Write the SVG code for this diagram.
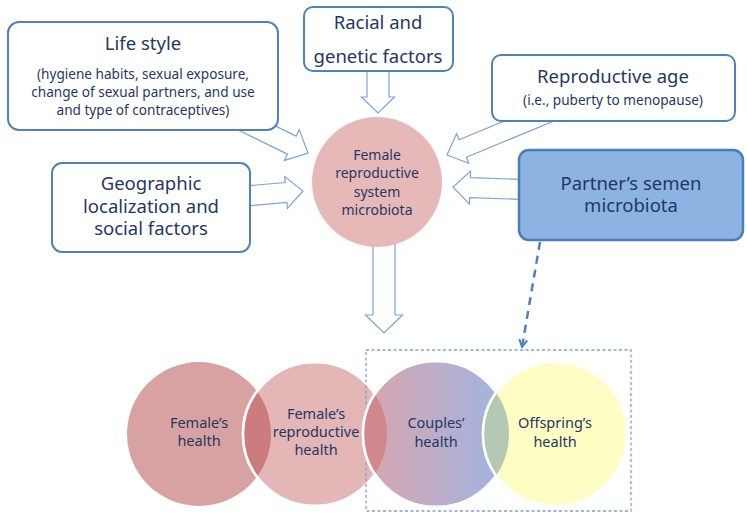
<svg xmlns="http://www.w3.org/2000/svg" width="747" height="519" viewBox="0 0 747 519">
<defs>
<style>
.box{fill:#ffffff;stroke:#4f81bd;stroke-width:2}
.arr{fill:#ffffff;stroke:#7ea3d6;stroke-width:1.2;stroke-linejoin:miter}
.ring{fill:none;stroke:#ffffff;stroke-width:2.5}
text{font-family:"Noto Sans","Liberation Sans",sans-serif;fill:#1f3864;text-anchor:middle}
.t{font-size:18.5px}
.s{font-size:13.6px}
.c{font-size:14px}
.b{font-size:14.5px}
</style>
<linearGradient id="gc" x1="0" x2="1" y1="0" y2="0">
<stop offset="0" stop-color="#d9a5ae"/>
<stop offset="1" stop-color="#9fb5e3"/>
</linearGradient>
<clipPath id="c2"><circle cx="315" cy="434" r="72"/></clipPath>
<clipPath id="c3"><circle cx="436" cy="434" r="73"/></clipPath>
<clipPath id="c4"><circle cx="555" cy="434" r="72"/></clipPath>
<marker id="ah" viewBox="0 0 10 10" refX="8.5" refY="5" markerWidth="4" markerHeight="4" orient="auto">
<path d="M1,1 L8.5,5 L1,9" fill="none" stroke="#4f81bd" stroke-width="2"/>
</marker>
</defs>

<g id="connectors">
<polygon class="arr" transform="translate(308,153) rotate(26)" points="-78,-10 -18,-10 -18,-17 0,0 -18,17 -18,10 -78,10"/>
<polygon class="arr" transform="translate(378,113) rotate(90)" points="-50,-11 -16,-11 -16,-16.5 0,0 -16,16.5 -16,11 -50,11"/>
<polygon class="arr" transform="translate(447,155) rotate(157.5)" points="-125,-9.5 -17,-9.5 -17,-16 0,0 -17,16 -17,9.5 -125,9.5"/>
<polygon class="arr" transform="translate(303,191) rotate(-5)" points="-65,-10 -17,-10 -17,-16 0,0 -17,16 -17,10 -65,10"/>
<polygon class="arr" transform="translate(453,187) rotate(182)" points="-80,-10 -17,-10 -17,-16.5 0,0 -17,16.5 -17,10 -80,10"/>
<polygon class="arr" transform="translate(384,333) rotate(90)" points="-95,-11 -18,-11 -18,-18.5 0,0 -18,18.5 -18,11 -95,11"/>
<line x1="540" y1="242" x2="522" y2="347" stroke="#4f81bd" stroke-width="2.5" stroke-dasharray="8 6" marker-end="url(#ah)"/>
</g>

<g id="lifestyle">
<rect class="box" x="8" y="22" width="270" height="108" rx="11"/>
<text class="t" x="143" y="50">Life style</text>
<text class="s" x="143" y="79">(hygiene habits, sexual exposure,</text>
<text class="s" x="143" y="97">change of sexual partners, and use</text>
<text class="s" x="143" y="115">and type of contraceptives)</text>
</g>

<g id="racial">
<rect class="box" x="304" y="7" width="149" height="64" rx="9"/>
<text class="t" x="378" y="29">Racial and</text>
<text class="t" x="378" y="63">genetic factors</text>
</g>

<g id="reproductive-age">
<rect class="box" x="492" y="55" width="243" height="66" rx="9"/>
<text class="t" x="613" y="83">Reproductive age</text>
<text class="s" x="613" y="105">(i.e., puberty to menopause)</text>
</g>

<g id="geographic">
<rect class="box" x="52" y="163" width="198" height="89" rx="10"/>
<text class="t" x="151" y="190">Geographic</text>
<text class="t" x="151" y="213">localization and</text>
<text class="t" x="151" y="235">social factors</text>
</g>

<g id="partner">
<rect x="519" y="150" width="224" height="90" rx="10" fill="#8db3e2" stroke="#4a7ebb" stroke-width="2.5"/>
<text class="t" x="631" y="190">Partner’s semen</text>
<text class="t" x="631" y="212">microbiota</text>
</g>

<g id="microbiota">
<circle cx="377" cy="182" r="65" fill="#e6b9b8"/>
<text class="c" x="377" y="160">Female</text>
<text class="c" x="377" y="178">reproductive</text>
<text class="c" x="377" y="197">system</text>
<text class="c" x="377" y="215">microbiota</text>
</g>

<g id="females-health">
<circle cx="199" cy="434" r="72" fill="#d8a2a2"/>
</g>

<g id="females-reproductive-health">
<circle cx="315" cy="434" r="72" fill="#e4b6b6" stroke="#ffffff" stroke-width="2.5"/>
<circle cx="199" cy="434" r="72" fill="#cc7b7e" clip-path="url(#c2)"/>
<circle class="ring" cx="315" cy="434" r="72"/>
</g>

<rect id="group-box" x="366" y="350" width="265" height="161" fill="none" stroke="#7ea3d6" stroke-width="1.3" stroke-dasharray="3 2.5"/>

<g id="couples-health">
<circle cx="436" cy="434" r="73" fill="url(#gc)" stroke="#ffffff" stroke-width="2.5"/>
<circle cx="315" cy="434" r="72" fill="#d2878d" clip-path="url(#c3)"/>
<circle class="ring" cx="436" cy="434" r="73"/>
</g>

<g id="offspring-health">
<circle cx="555" cy="434" r="72" fill="#fdfdc4" stroke="#ffffff" stroke-width="2.5"/>
<circle cx="436" cy="434" r="73" fill="#b4c8b3" clip-path="url(#c4)"/>
<circle class="ring" cx="555" cy="434" r="72"/>
</g>

<g id="labels">
<text class="b" x="199" y="428">Female’s</text>
<text class="b" x="199" y="446">health</text>
<text class="b" x="316" y="419">Female’s</text>
<text class="b" x="316" y="437">reproductive</text>
<text class="b" x="316" y="455">health</text>
<text class="b" x="436" y="428">Couples’</text>
<text class="b" x="436" y="447">health</text>
<text class="b" x="555" y="428">Offspring’s</text>
<text class="b" x="555" y="447">health</text>
</g>
</svg>
